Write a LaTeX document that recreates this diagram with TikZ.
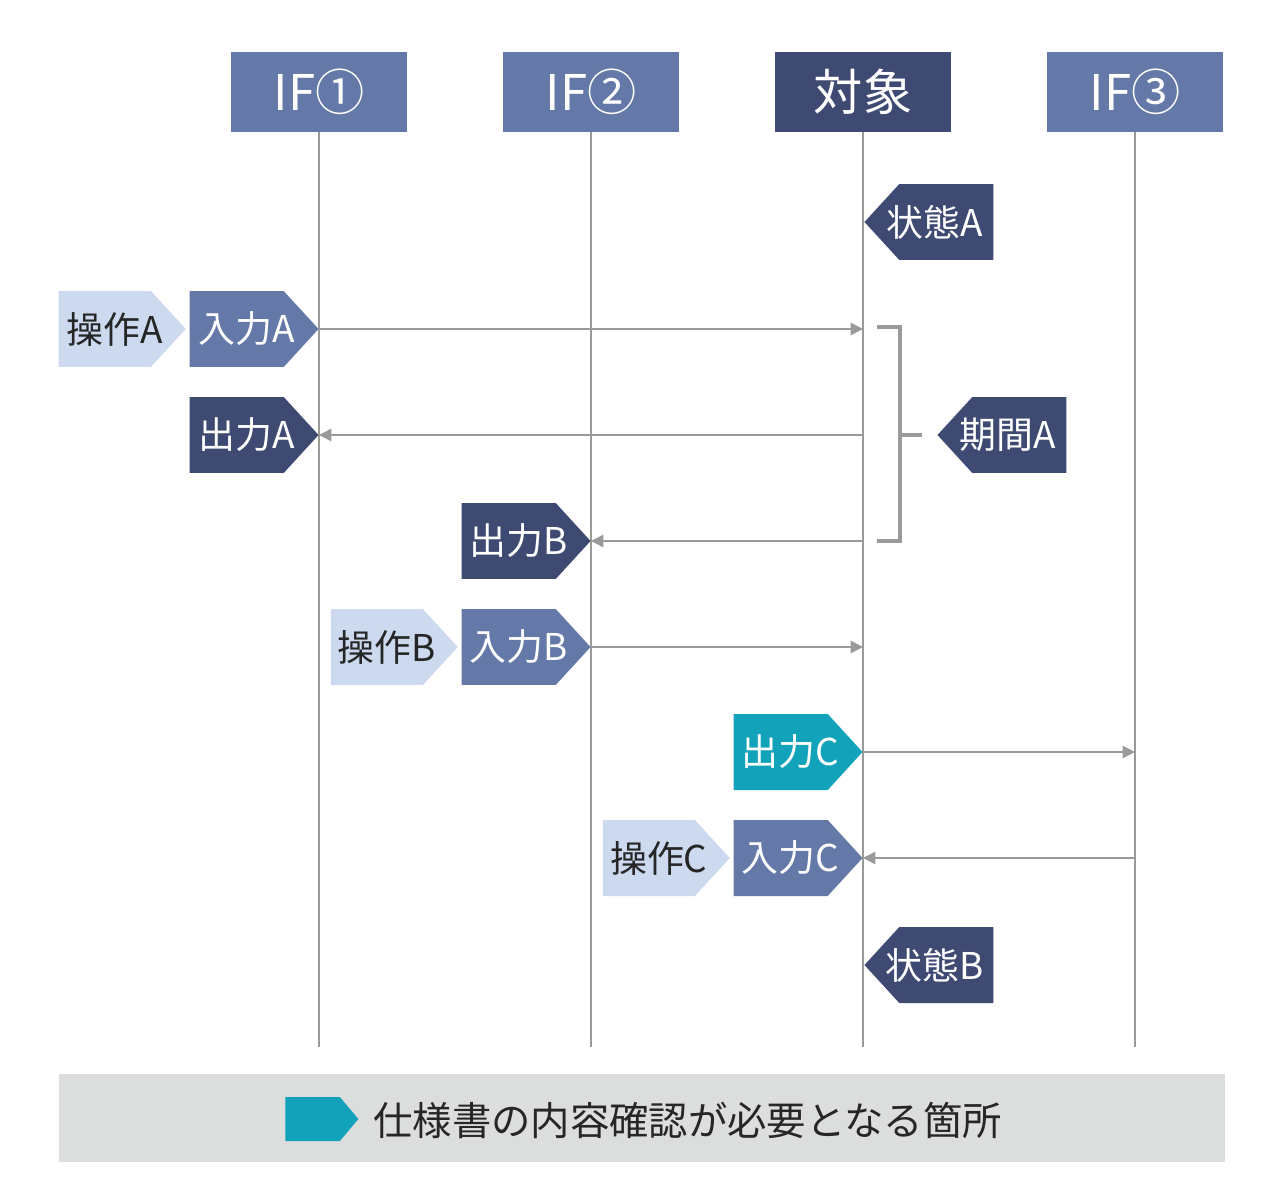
\documentclass[tikz,border=0pt]{standalone}
\usepackage{fontspec}
\setmainfont{Noto Sans CJK JP}
\usepackage{tikz}
\usetikzlibrary{shapes.symbols, arrows.meta, positioning}
\definecolor{ifblue}{HTML}{6479A8}
\definecolor{navy}{HTML}{3F4A72}
\definecolor{paleblue}{HTML}{CCD9EF}
\definecolor{checkteal}{HTML}{12A3BA}
\definecolor{linegray}{HTML}{9A9A9A}
\definecolor{legendgray}{HTML}{DCDDDD}

\begin{document}
\begin{tikzpicture}[
        x=0.02cm, y=-0.02cm,
        header/.style={rectangle, minimum width=3.52cm, minimum height=1.6cm, inner sep=0pt, text=white, font=\fontsize{28}{32}\selectfont},
        tag/.style={signal, signal pointer angle=95, minimum width=2.58cm, minimum height=1.52cm, inner sep=0pt, font=\fontsize{21}{25}\selectfont},
        righttag/.style={tag, signal to=east, execute at end node={\hspace*{-0.4cm}}},
        lefttag/.style={tag, signal to=west, execute at begin node={\hspace*{-0.48cm}}},
        intag/.style={righttag, fill=ifblue, text=white},
        outtag/.style={righttag, fill=navy, text=white},
        optag/.style={righttag, fill=paleblue, text=black!85, minimum width=2.54cm},
        statetag/.style={lefttag, fill=navy, text=white},
        checktag/.style={outtag, fill=checkteal},
        life/.style={draw=linegray, line width=0.8pt},
        msg/.style={draw=linegray, line width=0.8pt, -{Triangle[length=7pt, width=7pt]}},
        span/.style={draw=linegray, line width=2.3pt}
    ]
        \useasboundingbox (0,0) rectangle (1280,1189);

        % Lifeline heads
        \node (if1) [header, fill=ifblue] at (319,92) {IF①};
        \node (if2) [header, fill=ifblue] at (591,92) {IF②};
        \node (obj) [header, fill=navy] at (863,92) {対象};
        \node (if3) [header, fill=ifblue] at (1135,92) {IF③};
        \coordinate (bottom) at (0,1047);

        % Lifelines
        \draw [life] (if1.south) -- (if1.south |- bottom);
        \draw [life] (if2.south) -- (if2.south |- bottom);
        \draw [life] (obj.south) -- (obj.south |- bottom);
        \draw [life] (if3.south) -- (if3.south |- bottom);

        % Tags
        \node (stA) [statetag, anchor=west] at (864,222) {状態A};
        \node (inA) [intag, anchor=east] at (319,329) {入力A};
        \node (opA) [optag, left=0.06cm of inA] {操作A};
        \node (outA) [outtag, anchor=east] at (319,435) {出力A};
        \node (perA) [statetag, anchor=west] at (937,435) {期間A};
        \node (outB) [outtag, anchor=east] at (591,541) {出力B};
        \node (inB) [intag, anchor=east] at (591,647) {入力B};
        \node (opB) [optag, left=0.06cm of inB] {操作B};
        \node (outC) [checktag, anchor=east] at (863,752) {出力C};
        \node (inC) [intag, anchor=east] at (863,858) {入力C};
        \node (opC) [optag, left=0.06cm of inC] {操作C};
        \node (stB) [statetag, anchor=west] at (864,965) {状態B};

        % Messages
        \draw [msg] (inA.east) -- (inA.east -| obj);
        \draw [msg] (obj |- outA.east) -- (outA.east);
        \draw [msg] (obj |- outB.east) -- (outB.east);
        \draw [msg] (inB.east) -- (inB.east -| obj);
        \draw [msg] (outC.east) -- (outC.east -| if3);
        \draw [msg] (if3 |- inC.east) -- (inC.east);

        % Period bracket
        \draw [span] (877,327) -- (900,327) -- (900,541) -- (877,541);
        \draw [span] (900,435) -- (922,435);

        % Legend
        \node (legend) [fill=legendgray, minimum width=23.32cm, minimum height=1.76cm, inner sep=0pt] at (642,1118) {};
        \node (key) [signal, signal to=east, signal pointer angle=100, fill=checkteal, minimum width=1.46cm, minimum height=0.88cm, inner sep=0pt, anchor=west] at (285,1119) {};
        \node (keytext) [anchor=west, inner sep=0pt, text=black!85, font=\fontsize{22.4}{26}\selectfont] at (373,1120) {仕様書の内容確認が必要となる箇所};
    \end{tikzpicture}
\end{document}
